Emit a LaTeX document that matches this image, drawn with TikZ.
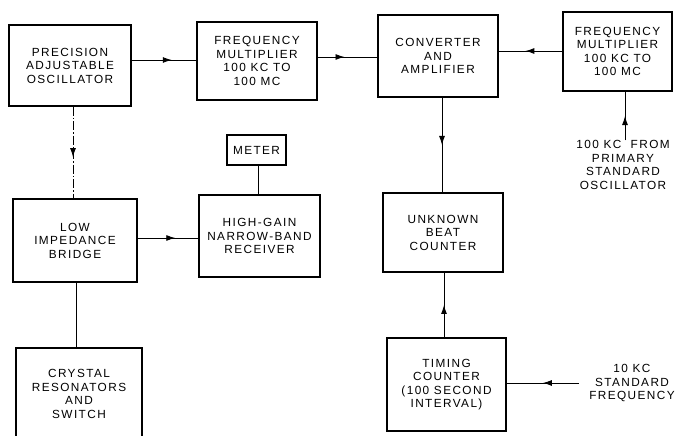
\documentclass[tikz,border=0pt]{standalone}
\usepackage{fontspec}
\setmainfont{Liberation Sans}[LetterSpace=12]
\usetikzlibrary{arrows.meta,decorations.markings}
\tikzset{
  blk/.style={draw, line width=1.3pt, align=center, inner sep=0pt,
    font=\fontsize{11.8}{13.5}\selectfont},
  lbl/.style={align=center, inner sep=0pt, font=\fontsize{11.8}{13.5}\selectfont},
  conn/.style={line width=0.9pt},
  midarrow/.style={conn, postaction={decorate}, decoration={markings,
    mark=at position #1 with {\arrow{Latex[length=9pt,width=6pt]}}}},
}
\begin{document}
\begin{tikzpicture}[x=1pt,y=1pt]
\useasboundingbox (0,0) rectangle (678,436);
\clip (0,0) rectangle (678,436);
\node[blk, minimum width=122, minimum height=81] (osc) at (70,370.5) {PRECISION\\ADJUSTABLE\\OSCILLATOR};
\node[blk, minimum width=120, minimum height=78] (fm1) at (257,375) {FREQUENCY\\MULTIPLIER\\100 KC TO\\100 MC};
\node[blk, minimum width=120, minimum height=82] (conv) at (438,380) {CONVERTER\\AND\\AMPLIFIER};
\node[blk, minimum width=109, minimum height=79] (fm2) at (617.5,384.5) {FREQUENCY\\MULTIPLIER\\100 KC TO\\100 MC};
\node[blk, minimum width=59, minimum height=30] (meter) at (256.5,286) {METER};
\node[blk, minimum width=124, minimum height=83] (bridge) at (75,195.5) {LOW\\IMPEDANCE\\BRIDGE};
\node[blk, minimum width=121, minimum height=82] (recv) at (259.5,200) {HIGH-GAIN\\NARROW-BAND\\RECEIVER};
\node[blk, minimum width=126, minimum height=92] (crys) at (79,42) {CRYSTAL\\RESONATORS\\AND\\SWITCH};
\node[blk, minimum width=120, minimum height=79] (unk) at (443,203.5) {UNKNOWN\\BEAT\\COUNTER};
\node[blk, minimum width=119, minimum height=93] (tim) at (446.5,51.5) {TIMING\\COUNTER\\(100 SECOND\\INTERVAL)};
\node[lbl] (in100) at (623,271) {100 KC\ \ FROM\\PRIMARY\\STANDARD\\OSCILLATOR};
\node[lbl, inner xsep=10pt] (in10) at (632,53) {10 KC\\STANDARD\\FREQUENCY};

\draw[midarrow=0.62] (osc.east |- 0,376) -- (fm1.west |- 0,376);
\draw[midarrow=0.45] (fm1.east |- 0,379) -- (conv.west |- 0,379);
\draw[midarrow=0.58] (fm2.west |- 0,385) -- (conv.east |- 0,385);
\draw[midarrow=0.5] (in100.north -| 625,0) -- (fm2.south -| 625,0);
\draw[midarrow=0.5] (conv.south -| 442,0) -- (unk.north -| 442,0);
\draw[midarrow=0.5] (tim.north -| 444,0) -- (unk.south -| 444,0);
\draw[midarrow=0.5] (in10.west) -- (tim.east |- in10.west);
\draw[midarrow=0.55, dash pattern=on 9pt off 2pt on 1.5pt off 2pt] (osc.south -| 73,0) -- (bridge.north -| 73,0);
\draw[midarrow=0.62] (bridge.east |- 0,198) -- (recv.west |- 0,198);
\draw[conn] (meter.south -| 258,0) -- (recv.north -| 258,0);
\draw[conn] (bridge.south -| 76,0) -- (crys.north -| 76,0);
\end{tikzpicture}
\end{document}
